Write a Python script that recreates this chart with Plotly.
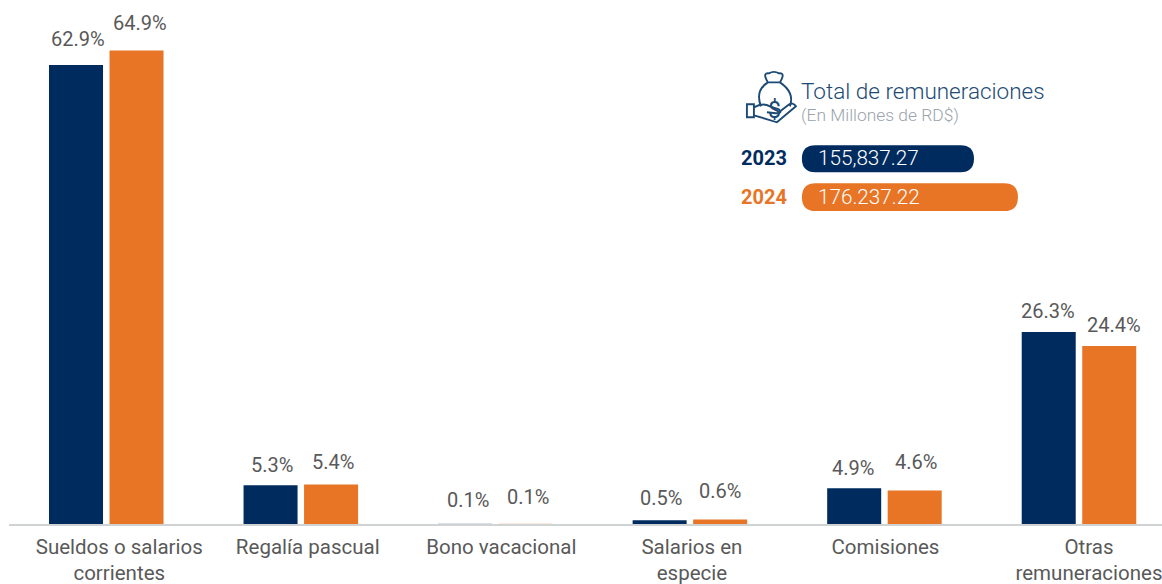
import plotly.graph_objects as go

categories = ["Sueldos o salarios<br>corrientes", "Regalía pascual", "Bono vacacional",
              "Salarios en<br>especie", "Comisiones", "Otras<br>remuneraciones"]
values_2023 = [62.9, 5.3, 0.1, 0.5, 4.9, 26.3]
values_2024 = [64.9, 5.4, 0.1, 0.6, 4.6, 24.4]
NAVY = "#002b5f"
ORANGE = "#e87425"
GRAY = "#595959"
FONT = "Roboto, sans-serif"

# label placement relative to each bar and category, in pixels
lift_2023 = [26, 20, 23, 22, 20, 21]
lift_2024 = [27, 23, 26, 29, 28, 21]
nudge_2023 = [2, 1, 3, 1, -1, -1]
nudge_2024 = [3, 2, 2, 0, 1, 5]
category_nudge = [13, 7, 6, 2, 1, 10]
CAT_PX = 194.5

W, H = 1162, 584
L, R, T, B = 9.25, 0, 13.5, 59.5
pw, ph = W - L - R, H - T - B


def px(x):
    return (x - L) / pw


def py(y):
    return 1 - (y - T) / ph


def path(*cmds):
    out = []
    for c in cmds:
        if isinstance(c, str):
            out.append(c)
        else:
            out.append(f"{px(c[0]):.5f},{py(c[1]):.5f}")
    return " ".join(out)


def pill(x0, y0, x1, y1, color):
    r = (y1 - y0) / 2
    return dict(type="path", xref="paper", yref="paper", fillcolor=color, line_width=0,
                path=path("M", (x0 + r, y0), "L", (x1 - r, y0), "Q", (x1, y0), (x1, y0 + r),
                          "Q", (x1, y1), (x1 - r, y1), "L", (x0 + r, y1),
                          "Q", (x0, y1), (x0, y0 + r), "Q", (x0, y0), (x0 + r, y0), "Z"))


def icon(*cmds):
    return dict(type="path", xref="paper", yref="paper", line=dict(color="#1c4a74", width=1.9),
                path=path(*cmds))


fig = go.Figure()
for name, vals, color in (("2023", values_2023, NAVY), ("2024", values_2024, ORANGE)):
    fig.add_bar(name=name, x=categories, y=vals, marker_color=color, marker_line_width=0,
                marker_opacity=[0.15 if v < 0.2 else 1 for v in vals],
                textposition="none", hoverinfo="x+y")

off = 60.5 / 2 / CAT_PX
for i, c in enumerate(categories):
    for vals, lifts, nudges, o in ((values_2023, lift_2023, nudge_2023, -off),
                                   (values_2024, lift_2024, nudge_2024, off)):
        fig.add_annotation(x=i + o, y=vals[i], xref="x", yref="y", text=f"{vals[i]}%",
                           showarrow=False, yshift=lifts[i], xshift=nudges[i],
                           font=dict(family=FONT, size=20, color=GRAY))

shapes = [
    pill(802, 145, 974, 172, NAVY),
    pill(802, 183, 1018, 211, ORANGE),
    # money bag
    icon("M", (768, 82), "Q", (755, 90), (761, 106)),
    icon("M", (780, 82), "Q", (795, 92), (790, 106)),
    icon("M", (768, 82), "L", (780, 82), "M", (768, 82), "Q", (762, 72), (769, 73),
         "Q", (774, 70), (779, 73), "Q", (786, 72), (780, 82)),
    # hand
    icon("M", (747, 104), "L", (754, 104), "L", (754, 117), "L", (747, 117), "Z"),
    icon("M", (754, 107), "Q", (763, 102), (770, 106), "L", (779, 109), "Q", (783, 113), (776, 113),
         "L", (767, 112)),
    icon("M", (754, 115), "L", (777, 122), "L", (796, 106), "Q", (793, 101), (788, 105),
         "L", (779, 112)),
]

texts = [
    (801, 91, "Total de remuneraciones", 22.5, "#1c4a74", 300),
    (801, 115, "(En Millones de RD$)", 17.4, "#9aa3ab", 300),
    (741, 158, "2023", 20, NAVY, 700),
    (741, 197, "2024", 20, ORANGE, 700),
    (818, 158, "155,837.27", 20.7, "#ffffff", 300),
    (818, 197, "176.237.22", 20.7, "#ffffff", 300),
]
for x, y, t, s, col, w in texts:
    fig.add_annotation(x=px(x), y=py(y), xref="paper", yref="paper", xanchor="left", yanchor="middle",
                       xshift=-2, text=t, showarrow=False,
                       font=dict(family=FONT, size=s, color=col, weight=w))
fig.add_annotation(x=px(775), y=py(95), xref="paper", yref="paper", text="$", showarrow=False,
                   font=dict(family=FONT, size=23, color="#1c4a74"))

fig.update_layout(
    shapes=shapes,
    width=W, height=H, margin=dict(l=L, r=R, t=T, b=B, autoexpand=False),
    paper_bgcolor="white", plot_bgcolor="white", showlegend=False, barmode="group",
    bargap=1 - 121 / CAT_PX, bargroupgap=6.5 / 60.5,
    xaxis=dict(range=[-0.5, (W - L) / CAT_PX - 0.5], showgrid=False, showline=True, linecolor="#d0d3d3",
               linewidth=2, ticks="", tickmode="array",
               tickvals=[i + n / CAT_PX for i, n in enumerate(category_nudge)], ticktext=categories,
               tickfont=dict(family=FONT, size=20.5, color=GRAY), tickangle=0,
               ticklabelstandoff=3, automargin=False),
    yaxis=dict(range=[0, 69.9], visible=False, showgrid=False, zeroline=False, automargin=False),
)
fig.write_html("out.html", config={"displayModeBar": False},
               post_script="document.documentElement.style.overflow='hidden';"
                           "document.body.style.margin='0';document.body.style.overflow='hidden';")
